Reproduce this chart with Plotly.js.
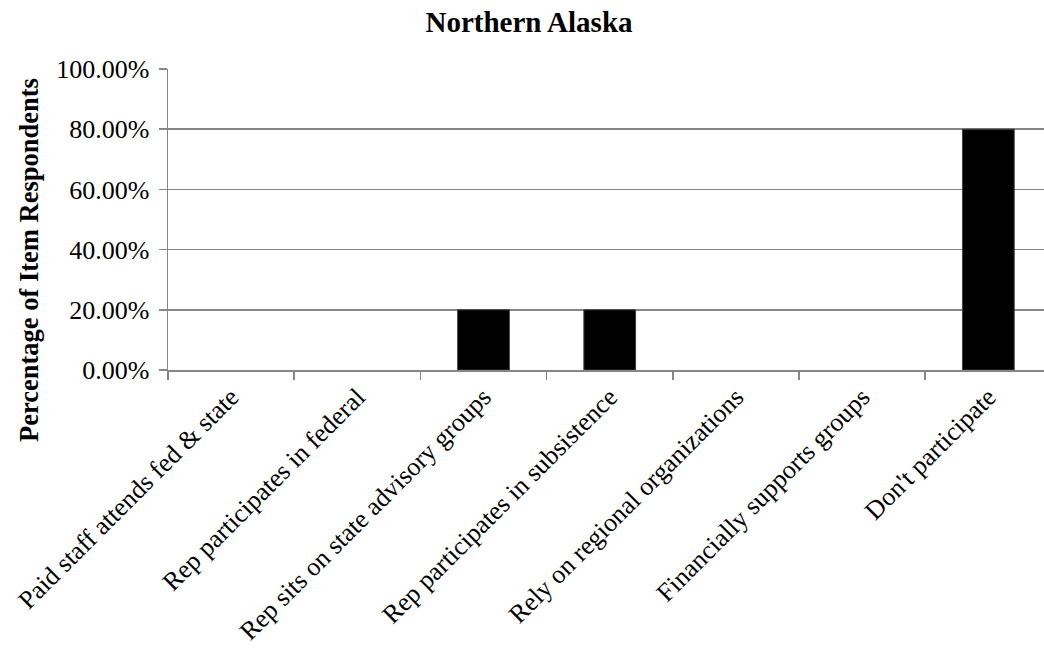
<!DOCTYPE html>
<html>
<head>
<meta charset="utf-8">
<script src="https://cdn.plot.ly/plotly-3.0.1.min.js"></script>
<style>html,body{margin:0;padding:0;background:#fff;}#chart{width:1044px;height:656px;}</style>
</head>
<body>
<div id="chart"></div>
<script>
const categories = [
  "Paid staff attends fed & state",
  "Rep participates in federal",
  "Rep sits on state advisory groups",
  "Rep participates in subsistence",
  "Rely on regional organizations",
  "Financially supports groups",
  "Don't participate"
];
const values = [0, 0, 0.20, 0.20, 0, 0, 0.80];
const yTickValues = [0, 0.2, 0.4, 0.6, 0.8, 1.0];
const chartTitle = "Northern Alaska";
const yAxisTitle = "Percentage of Item Respondents";

const font = "'Liberation Serif', 'Times New Roman', serif";
const grid = "#868686";

const trace = {
  type: "bar",
  x: categories,
  y: values,
  width: 0.41,
  marker: { color: "#000000", line: { color: "#404040", width: values.map(v => v > 0 ? 1 : 0) } },
  hoverinfo: "skip"
};

const layout = {
  width: 1044, height: 656,
  paper_bgcolor: "#ffffff", plot_bgcolor: "#ffffff",
  margin: { l: 168, r: 0, t: 69, b: 286, pad: 0 },
  showlegend: false,
  font: { family: font, color: "#000000", size: 26 },
  title: {
    text: "<b>" + chartTitle + "</b>",
    font: { family: font, size: 29, color: "#000" },
    x: 529 / 1044, xanchor: "center", xref: "container",
    y: 1 - 22 / 656, yref: "container", yanchor: "middle"
  },
  xaxis: {
    type: "category",
    range: [-0.5, 6.441],
    tickson: "boundaries",
    ticks: "outside", ticklen: 8, tickwidth: 1.5, tickcolor: grid,
    showline: true, linecolor: grid, linewidth: 1.5,
    showgrid: false, zeroline: false,
    tickangle: -45,
    tickfont: { family: font, size: 26, color: "#000" },
    automargin: false
  },
  yaxis: {
    range: [0, 1],
    tickmode: "array", tickvals: yTickValues,
    tickformat: ".2%",
    ticks: "outside", ticklen: 8, tickwidth: 1.5, tickcolor: grid,
    ticklabelstandoff: 4,
    showline: true, linecolor: grid, linewidth: 1.5,
    showgrid: true, gridcolor: grid, gridwidth: 1.5,
    zeroline: false,
    tickfont: { family: font, size: 26, color: "#000" },
    automargin: false
  },
  annotations: [{
    text: "<b>" + yAxisTitle + "</b>",
    textangle: -90,
    xref: "paper", yref: "paper",
    x: (29 - 168) / 876, y: (370 - 260) / 301,
    xanchor: "center", yanchor: "middle",
    showarrow: false,
    font: { family: font, size: 26.5, color: "#000" }
  }]
};

Plotly.newPlot("chart", [trace], layout, { displayModeBar: false, staticPlot: true });
</script>
</body>
</html>
